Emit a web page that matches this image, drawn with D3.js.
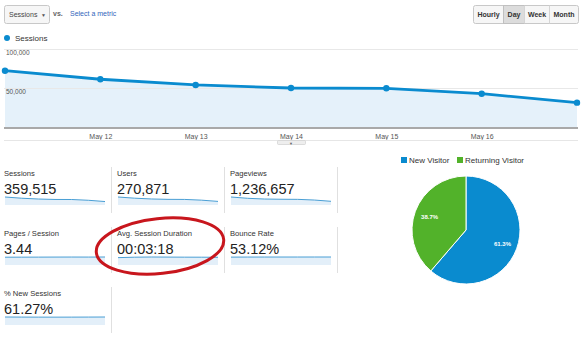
<!DOCTYPE html>
<html><head><meta charset="utf-8">
<script src="https://cdn.jsdelivr.net/npm/d3@7"></script>
<style>body{margin:0;background:#fff;}svg{display:block;font-family:"Liberation Sans",Arial,sans-serif;}</style>
</head><body>
<svg id="c" width="581" height="337"></svg>
<script>
// ---- data ----
const dates = ["May 11","May 12","May 13","May 14","May 15","May 16","May 17"];
const axisLabels = ["May 12","May 13","May 14","May 15","May 16"];
const sessions = [72200, 61200, 53900, 50000, 49600, 42700, 31200];
const yTicks = [50000, 100000];
const intervals = ["Hourly","Day","Week","Month"];
const metricNames = ["Sessions","Users","Pageviews","Pages / Session","Avg. Session Duration","Bounce Rate","% New Sessions"];
const metricValues = ["359,515","270,871","1,236,657","3.44","00:03:18","53.12%","61.27%"];
const sparkSessions = [72200, 61200, 53900, 50000, 49600, 42700, 31200];
const sparkUsers = [54500, 46500, 41000, 38500, 38000, 33000, 24500];
const sparkPageviews = [245000, 205000, 183000, 176000, 173000, 152000, 113000];
const sparkPagesPerSession = [3.38, 3.40, 3.42, 3.44, 3.45, 3.44, 3.47];
const sparkDuration = [186, 197, 202, 200, 198, 197, 195];
const sparkBounce = [52.6, 53.0, 53.1, 53.2, 53.2, 53.3, 53.4];
const sparkNewSessions = [61.9, 61.2, 60.9, 60.8, 61.0, 61.4, 61.8];
const pieLabels = ["New Visitor","Returning Visitor"];
const pieValues = [61.3, 38.7];

const blue = "#0a8bcf", green = "#52b22a";
const svg = d3.select("#c");

// ---- top controls ----
const dd = svg.append("g");
dd.append("rect").attr("x",4.5).attr("y",5.5).attr("width",45).attr("height",18).attr("rx",2)
  .attr("fill","#f6f6f6").attr("stroke","#c8c8c8");
dd.append("text").attr("x",9).attr("y",17).attr("font-size",7).attr("fill","#444").text("Sessions");
dd.append("text").attr("x",41).attr("y",17).attr("font-size",5).attr("fill","#555").text("▼");
svg.append("text").attr("x",53).attr("y",16).attr("font-size",7).attr("font-weight","bold").attr("fill","#666").text("vs.");
svg.append("text").attr("x",70).attr("y",16).attr("font-size",7).attr("fill","#3366bb").text("Select a metric");

const bw = [30,21,25,29];
let bx = 473.5;
const bg = svg.append("g");
bg.append("rect").attr("x",473.5).attr("y",5.5).attr("width",d3.sum(bw)).attr("height",18).attr("rx",2)
  .attr("fill","#f6f6f6").attr("stroke","#c8c8c8");
intervals.forEach((t,i)=>{
  if(t==="Day") bg.append("rect").attr("x",bx).attr("y",5.5).attr("width",bw[i]).attr("height",18).attr("fill","#dcdcdc").attr("stroke","#c0c0c0");
  else if(i>0) bg.append("line").attr("x1",bx).attr("x2",bx).attr("y1",5.5).attr("y2",23.5).attr("stroke","#d5d5d5");
  bg.append("text").attr("x",bx+bw[i]/2).attr("y",17).attr("text-anchor","middle").attr("font-size",7)
    .attr("font-weight","bold").attr("fill","#333").text(t);
  bx += bw[i];
});

// legend
svg.append("circle").attr("cx",7).attr("cy",38).attr("r",3).attr("fill",blue);
svg.append("text").attr("x",15).attr("y",41).attr("font-size",8).attr("fill","#333").text("Sessions");

// ---- main chart ----
const x = d3.scalePoint().domain(dates).range([5,577]);
const y = d3.scaleLinear().domain([0,100000]).range([127,49]);

const g = svg.append("g");
g.append("path").datum(sessions)
  .attr("d", d3.area().x((d,i)=>x(dates[i])).y0(y(0)).y1(d=>y(d)))
  .attr("fill","#e5f1fa");
yTicks.forEach(t=>{
  g.append("line").attr("x1",4).attr("x2",578).attr("y1",y(t)+0.5).attr("y2",y(t)+0.5).attr("stroke","#e8e8e8");
  g.append("text").attr("x",6).attr("y",y(t)+5.5).attr("font-size",6.5).attr("fill","#555").text(d3.format(",")(t));
});
g.append("line").attr("x1",4).attr("x2",578).attr("y1",y(0)+1).attr("y2",y(0)+1).attr("stroke","#a9a9a9").attr("stroke-width",2);
g.append("path").datum(sessions)
  .attr("d", d3.line().x((d,i)=>x(dates[i])).y(d=>y(d)))
  .attr("fill","none").attr("stroke",blue).attr("stroke-width",2.8);
g.selectAll("circle.pt").data(sessions).join("circle").attr("class","pt")
  .attr("cx",(d,i)=>x(dates[i])).attr("cy",d=>y(d)).attr("r",3.2).attr("fill",blue);

const xAxis = g.append("g").attr("transform",`translate(0,${y(0)+2})`)
  .call(d3.axisBottom(x).tickValues(axisLabels).tickSize(0).tickPadding(5));
xAxis.select(".domain").remove();
xAxis.selectAll("text").attr("font-size",7).attr("fill","#555").attr("font-family","Liberation Sans, Arial, sans-serif");

g.append("line").attr("x1",4).attr("x2",578).attr("y1",140.5).attr("y2",140.5).attr("stroke","#e6e6e6");
g.append("rect").attr("x",277.5).attr("y",140.5).attr("width",28).attr("height",4).attr("rx",1).attr("fill","#eee").attr("stroke","#d0d0d0").attr("stroke-width",0.7);
g.append("text").attr("x",291).attr("y",145).attr("text-anchor","middle").attr("font-size",4).attr("fill","#666").text("▼");

// ---- metric tiles ----
const sparks = [sparkSessions,sparkUsers,sparkPageviews,sparkPagesPerSession,sparkDuration,sparkBounce,sparkNewSessions];
const colX = [4,117,230];
const rowY = [176,236,296];
metricNames.forEach((name,i)=>{
  const col = i%3, row = Math.floor(i/3);
  const tx = colX[col], ty = rowY[row];
  const t = svg.append("g");
  t.append("text").attr("x",tx).attr("y",ty).attr("font-size",7.6).attr("fill","#333").text(name);
  t.append("text").attr("x",tx).attr("y",ty+17.5).attr("font-size",14.5).attr("fill","#222").text(metricValues[i]);
  const sx = d3.scalePoint().domain(dates).range([tx+1,tx+101]);
  const sy = d3.scaleLinear().domain([0,d3.max(sparks[i])]).range([ty+29,ty+21]);
  t.append("path").datum(sparks[i])
    .attr("d",d3.area().x((d,j)=>sx(dates[j])).y0(ty+29).y1(d=>sy(d))).attr("fill","#e3eff9");
  t.append("path").datum(sparks[i])
    .attr("d",d3.line().x((d,j)=>sx(dates[j])).y(d=>sy(d))).attr("fill","none").attr("stroke","#4a9fd5").attr("stroke-width",1);
  t.append("line").attr("x1",tx+107.5).attr("x2",tx+107.5).attr("y1",ty-9).attr("y2",ty+37).attr("stroke","#e0e0e0");
});

// highlight ellipse
svg.append("ellipse").attr("cx",160).attr("cy",246).attr("rx",64).attr("ry",27.5)
  .attr("transform","rotate(-6,160,246)").attr("fill","none").attr("stroke","#c8161d").attr("stroke-width",3);

// ---- pie ----
const pcx = 466, pcy = 230, pr = 54;
const pie = d3.pie().sort(null).value(d=>d)(pieValues);
const arc = d3.arc().innerRadius(0).outerRadius(pr);
const labelArc = d3.arc().innerRadius(pr*0.72).outerRadius(pr*0.72);
const pg = svg.append("g").attr("transform",`translate(${pcx},${pcy})`);
pg.selectAll("path").data(pie).join("path").attr("d",arc)
  .attr("fill",(d,i)=>[blue,green][i]).attr("stroke","#fff").attr("stroke-width",1);
pg.selectAll("text").data(pie).join("text")
  .attr("transform",d=>`translate(${labelArc.centroid(d)})`)
  .attr("text-anchor","middle").attr("dy","0.35em").attr("font-size",6).attr("font-weight","bold").attr("fill","#fff")
  .text(d=>d.data.toFixed(1)+"%");

const lx = [401,457];
pieLabels.forEach((l,i)=>{
  svg.append("rect").attr("x",lx[i]).attr("y",157).attr("width",6).attr("height",6).attr("fill",[blue,green][i]);
  svg.append("text").attr("x",lx[i]+8).attr("y",163).attr("font-size",8).attr("fill","#333").text(l);
});
</script>
</body></html>
